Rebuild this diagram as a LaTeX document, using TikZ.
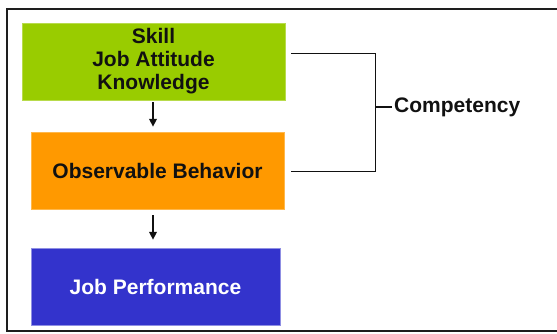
\documentclass[tikz,border=0pt]{standalone}
\usepackage{fontspec}
\setmainfont{Liberation Sans}
\usepackage{tikz}
\usetikzlibrary{arrows.meta,positioning,calc}
\definecolor{cpframe}{HTML}{1E1E1E}
\definecolor{cpgreen}{HTML}{99CC00}
\definecolor{cporange}{HTML}{FF9900}
\definecolor{cpblue}{HTML}{3333CC}
\definecolor{cpink}{HTML}{111111}
\tikzset{
  cpbox/.style={inner sep=0pt, minimum height=77pt, align=center,
                font=\fontsize{21}{23}\selectfont\bfseries, text=cpink},
  cpgreenbox/.style={cpbox, fill=cpgreen, draw=cpgreen!70!white, thin},
  cporangebox/.style={cpbox, fill=cporange, draw=cporange!70!white, thin},
  cpbluebox/.style={cpbox, fill=cpblue, draw=cpblue!55!white, thin, text=white},
  cpedge/.style={-{Triangle[length=8pt,width=7.5pt]}, draw=cpink, line width=2pt},
  cpbracket/.style={draw=cpink, line width=1.1pt},
  cplabel/.style={font=\fontsize{21}{23}\selectfont\bfseries, text=cpink,
                  inner sep=2pt, anchor=west},
}
\begin{document}
\begin{tikzpicture}[x=1pt,y=1pt]
  \useasboundingbox (0,0) rectangle (557,333);
  % frame, open on the right
  \draw[cpframe, line width=1.6pt] (557,324) -- (7,324) -- (7,2) -- (557,2);

  \node[cpgreenbox, minimum width=263pt] (skill) at (153.5,271.5)
    {Skill\\Job Attitude\\Knowledge};
  \node[cporangebox, minimum width=253pt] (behav) at (157.5,162.5)
    {Observable Behavior};
  \node[cpbluebox, minimum width=249pt] (perf) at (155.5,46.5)
    {Job Performance};

  \draw[cpedge, shorten <=2pt, shorten >=5pt]
    ([xshift=-0.5pt]skill.south) -- ([xshift=-0.5pt]skill.south |- behav.north);
  \draw[cpedge, shorten <=6pt, shorten >=8pt]
    ([xshift=-4.5pt]behav.south) -- ([xshift=-4.5pt]behav.south |- perf.north);

  % bracket grouping the first two boxes
  \coordinate (brtop) at ([xshift=6pt,yshift=8pt]skill.east);
  \coordinate (brbot) at ([xshift=7pt,yshift=-1pt]behav.east);
  \node[cplabel] (comp) at (392,226) {Competency};
  \draw[cpbracket] (brtop) -- ++(84,0) |- (brbot);
  \draw[cpbracket] (comp.west) -- ++(-17,0);
\end{tikzpicture}
\end{document}
